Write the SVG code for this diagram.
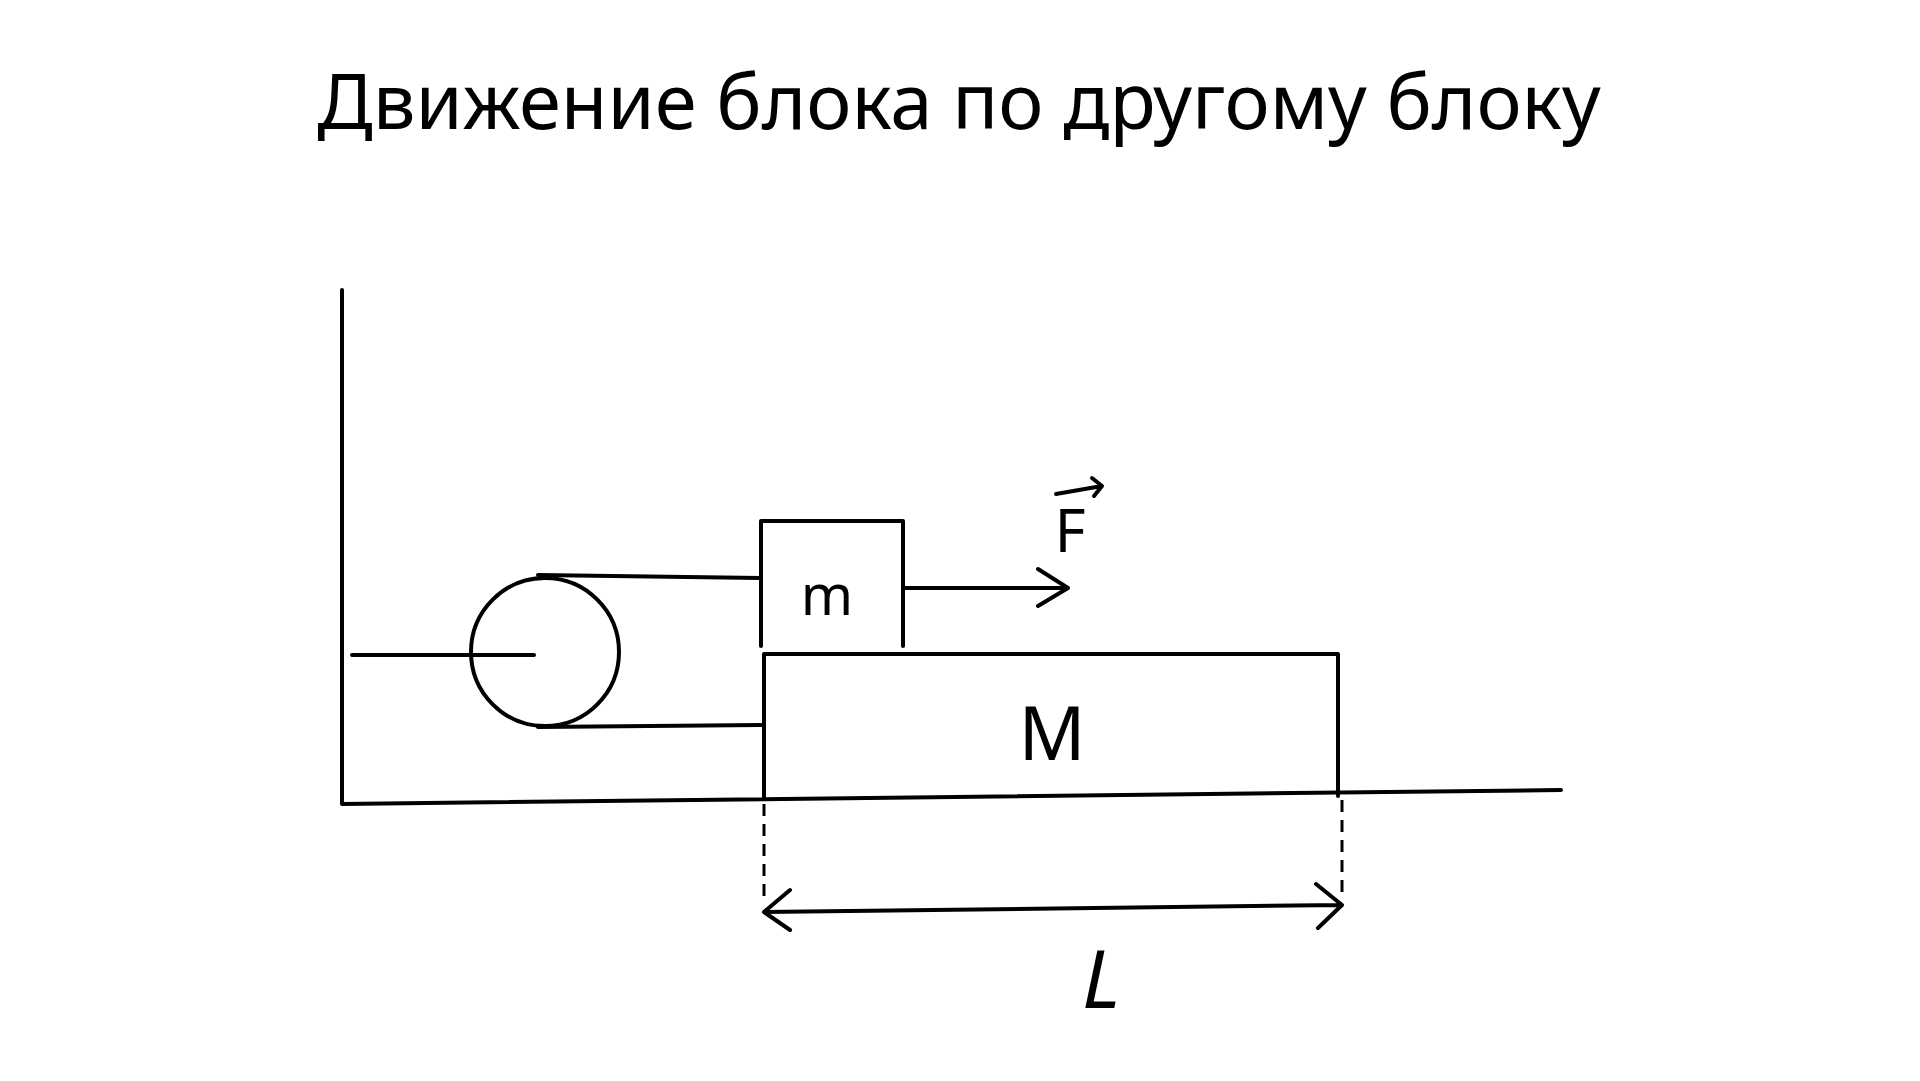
<svg xmlns="http://www.w3.org/2000/svg" width="1920" height="1081" viewBox="0 0 1920 1081">
<style>
.s{stroke:#000;stroke-width:4;fill:none;stroke-linecap:round;stroke-linejoin:round}
.d{stroke:#000;stroke-width:3;fill:none;stroke-dasharray:12 8}
.t{font-family:"Noto Sans","DejaVu Sans",sans-serif;fill:#000}
</style>
<rect width="1920" height="1081" fill="#fff"/>
<text class="t" x="959" y="129" font-size="76" text-anchor="middle">Движение блока по другому блоку</text>
<g id="ground">
<path class="s" d="M342 290 L342 804 L1561 790"/>
</g>
<g id="pulley">
<circle class="s" cx="545" cy="652" r="74"/>
<path class="s" d="M352 655 L534 655"/>
</g>
<g id="block_m">
<path class="s" d="M761 646 L761 521 L903 521 L903 646"/>
<text class="t" x="827" y="615" font-size="56" text-anchor="middle">m</text>
</g>
<g id="block_M">
<path class="s" d="M764 654 L1338 654 L1338 796 M764 654 L764 798"/>
<text class="t" x="1052" y="760" font-size="74" text-anchor="middle">M</text>
</g>
<g id="connectors">
<path class="s" d="M538 575 L761 578 M538 727 L761 725"/>
<path class="s" d="M903 588 L1068 588 M1038 569 L1068 588 L1038 606"/>
<path class="d" d="M764 804 L764 898 M1342 800 L1342 898"/>
<path class="s" d="M764 912 L1342 905 M790 890 L764 912 L790 930 M1316 884 L1342 905 L1318 928"/>
</g>
<g id="labels">
<text class="t" x="1070" y="552" font-size="60" text-anchor="middle">F</text>
<path class="s" d="M1056 494 L1102 486 M1092 478 L1102 486 L1094 496"/>
<text class="t" x="1101" y="1008" font-size="80" font-style="italic" text-anchor="middle">L</text>
</g>
</svg>
